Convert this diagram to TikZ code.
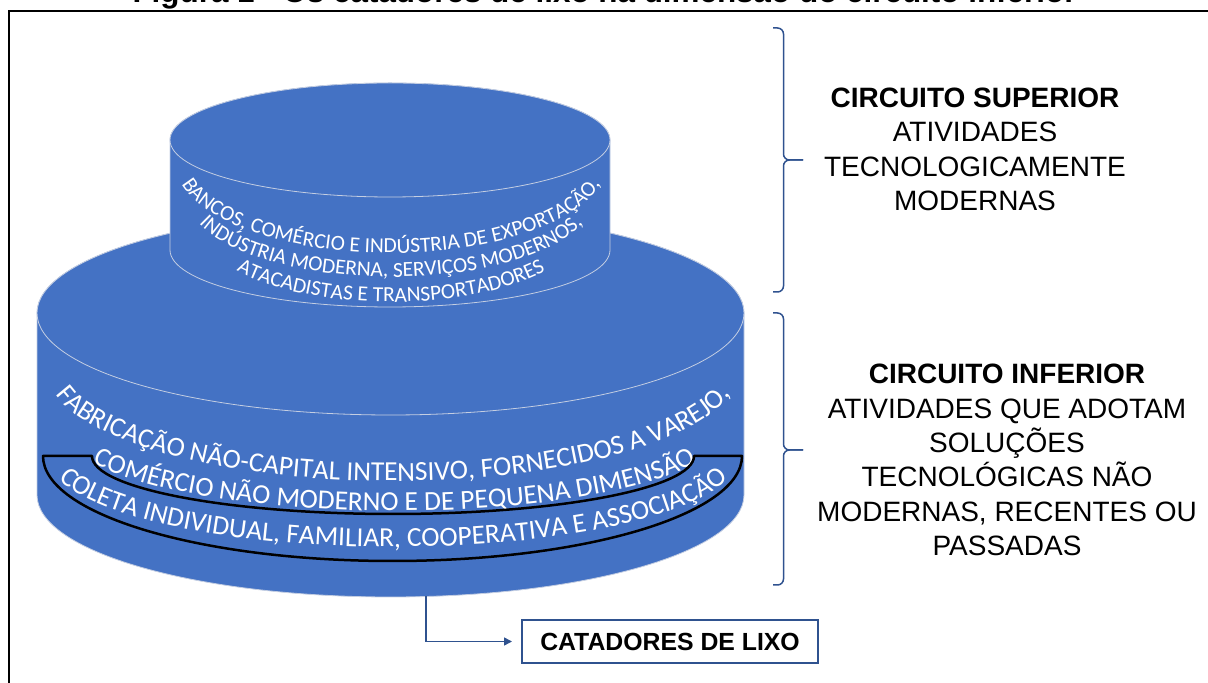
\documentclass[tikz,border=0pt]{standalone}
\usepackage{fontspec}
\setmainfont{Liberation Sans}
\newfontfamily\calib{Carlito}
\usetikzlibrary{arrows.meta,decorations.text}
\definecolor{cylblue}{HTML}{4472C4}
\definecolor{cyledge}{RGB}{196,206,226}
\definecolor{navy}{HTML}{2F528F}
\newcommand\bigfont{\calib\fontsize{27.5}{30}\selectfont}
\newcommand\smallfont{\calib\fontsize{21.5}{24}\selectfont}
\tikzset{
  cylbody/.style={fill=cylblue, draw=cyledge, line width=0.8pt},
  bracket/.style={draw=navy, line width=1.5pt, rounded corners=6pt},
  circtext/.style={align=center, inner sep=0pt, font=\fontsize{28}{34.3}\selectfont},
  lixobox/.style={draw=navy, line width=2pt, minimum width=296pt, minimum height=42.6pt,
    inner sep=0pt, font=\bfseries\fontsize{24.8}{28}\selectfont},
  seta/.style={draw=navy, line width=1.5pt, -{Triangle[length=8pt,width=8pt]}},
  arctext/.style={decorate, decoration={text along path, text align=center,
    text color=white, text={#1}}},
}
\begin{document}
\begin{tikzpicture}[x=1pt,y=1pt]
  \useasboundingbox (0,0) rectangle (1208,683);
  \node[anchor=base, font=\bfseries\fontsize{31.4}{34}\selectfont] (titulo) at (604.5,680.5)
    {Figura 1 - Os catadores de lixo na dimensão do circuito inferior};
  \draw[line width=1.5pt] (9,-20) rectangle (1230,672);

  \path[cylbody] (37,370) -- (37,188) arc[start angle=180, end angle=360, x radius=353.5, y radius=102]
    -- (744,370) arc[start angle=0, end angle=180, x radius=353.5, y radius=102] -- cycle;
  \path[cylbody] (390.5,370) ellipse[x radius=353.5, y radius=102];
  \path[cylbody] (170,543) -- (170,433) arc[start angle=180, end angle=360, x radius=220, y radius=57]
    -- (610,543) arc[start angle=0, end angle=180, x radius=220, y radius=57] -- cycle;
  \path[cylbody] (390,543) ellipse[x radius=220, y radius=57];

  \coordinate (ban) at (391,519);
  \coordinate (ind) at (391,488);
  \coordinate (ata) at (391,456);
  \coordinate (fab) at (393,312);
  \coordinate (com) at (395,253);
  \coordinate (col) at (393,226);
  \path[arctext={|\smallfont|BANCOS, COMÉRCIO E INDÚSTRIA DE EXPORTAÇÃO,}]
    ([shift={(182:215 and 89)}]ban) arc[start angle=182, end angle=358, x radius=215, y radius=89];
  \path[arctext={|\smallfont|INDÚSTRIA MODERNA, SERVIÇOS MODERNOS,}]
    ([shift={(182:205 and 82)}]ind) arc[start angle=182, end angle=358, x radius=205, y radius=82];
  \path[arctext={|\smallfont|ATACADISTAS E TRANSPORTADORES}]
    ([shift={(182:190 and 75)}]ata) arc[start angle=182, end angle=358, x radius=190, y radius=75];
  \path[arctext={|\bigfont|FABRICAÇÃO NÃO-CAPITAL INTENSIVO, FORNECIDOS A VAREJO,}]
    ([shift={(182:345 and 110)}]fab) arc[start angle=182, end angle=358, x radius=345, y radius=110];
  \path[arctext={|\bigfont|COMÉRCIO NÃO MODERNO E DE PEQUENA DIMENSÃO}]
    ([shift={(182:330 and 81)}]com) arc[start angle=182, end angle=358, x radius=330, y radius=81];
  \path[arctext={|\bigfont|COLETA INDIVIDUAL, FAMILIAR, COOPERATIVA E ASSOCIAÇÃO}]
    ([shift={(182:345 and 90)}]col) arc[start angle=182, end angle=358, x radius=345, y radius=90];

  \draw[line width=2.5pt, line join=round] (43,227) arc[start angle=180, end angle=360, x radius=349.5, y radius=105]
    -- (694,227) arc[start angle=0, end angle=-180, x radius=301, y radius=58] -- cycle;

  \draw[bracket] (773,655) -- (783.5,655) -- (783.5,523) -- (803,523);
  \draw[bracket] (773,391) -- (783.5,391) -- (783.5,523) -- (803,523);
  \draw[bracket] (773,370) -- (783.5,370) -- (783.5,233) -- (803,233);
  \draw[bracket] (773,98) -- (783.5,98) -- (783.5,233) -- (803,233);

  \node[circtext] (superior) at (975,533.5)
    {\textbf{CIRCUITO SUPERIOR}\\ATIVIDADES\\TECNOLOGICAMENTE\\MODERNAS};
  \node[circtext] (inferior) at (1007,223)
    {\textbf{CIRCUITO INFERIOR}\\ATIVIDADES QUE ADOTAM\\SOLUÇÕES\\TECNOLÓGICAS NÃO\\MODERNAS, RECENTES OU\\PASSADAS};

  \node[lixobox] (catadores) at (670,41.5) {CATADORES DE LIXO};
  \coordinate (base) at (426,87);
  \draw[seta] (base) |- ([xshift=-9pt]catadores.west);
\end{tikzpicture}
\end{document}
